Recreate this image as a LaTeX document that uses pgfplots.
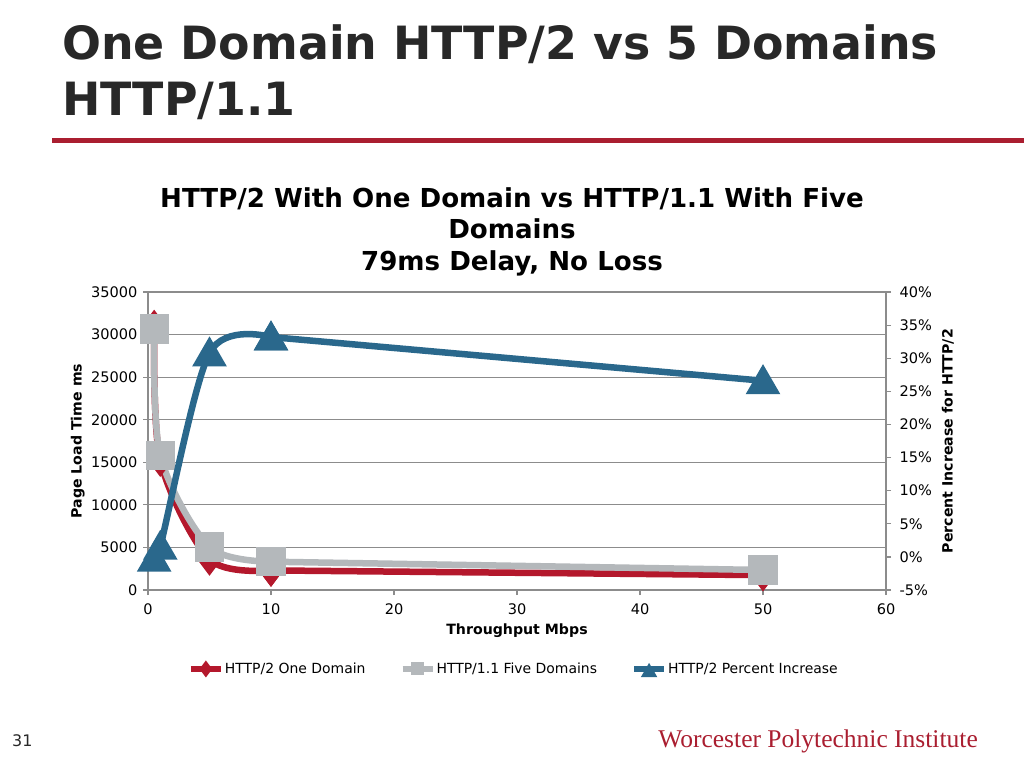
\documentclass[border=0pt]{standalone}
\usepackage{fontspec}
\setmainfont{DejaVu Sans}
\newfontfamily\wpifont{Liberation Serif}
\usepackage{pgfplots}
\usepackage{pgfplotstable}
\pgfplotsset{compat=1.18}

\definecolor{wpired}{RGB}{170,30,48}
\definecolor{serred}{RGB}{180,24,44}
\definecolor{sergray}{RGB}{180,184,187}
\definecolor{serblue}{RGB}{42,104,140}
\definecolor{gridgray}{RGB}{140,140,140}
\definecolor{titlegray}{RGB}{40,40,40}

% page load time (ms), left axis
\pgfplotstableread{
x    t
0.5  31000
1    15200
5    3600
10   2300
50   1750
}\onedomain
\pgfplotstableread{
x    t
0.5  30650
1    15775
5    5050
10   3325
50   2350
}\fivedomains
% percent increase for HTTP/2, right axis
\pgfplotstableread{
x    p
0.5  -0.2
1    1.6
5    30.8
10   33.2
50   26.6
}\increase

\pgfplotsset{
  slide axis/.style={
    at={(148bp,-590bp)}, anchor=south west,
    scale only axis, width=738bp, height=298bp,
    xmin=0, xmax=60, clip=false,
    tick align=outside, major tick length=5bp,
    axis line style={draw=gridgray, line width=1.2bp, -},
    tick style={draw=gridgray, line width=1.2bp},
    ticklabel style={font=\fontsize{14.6}{16}\selectfont},
    /pgf/number format/assume math mode=true,
    /pgf/number format/1000 sep={},
    label style={font=\fontsize{14.2}{16}\selectfont\bfseries},
  },
  legend image code/.code={
    \draw[mark repeat=2, mark phase=2, #1, mark size=3.5bp, line width=6bp]
      plot coordinates {(0bp,0bp) (15bp,0bp) (30bp,0bp)};
  },
}

\begin{document}
\begin{tikzpicture}[x=1bp, y=1bp]
\path[fill=white, use as bounding box] (0,0) rectangle (1024,-768);

% slide title and rule
\node[anchor=base west, inner sep=0, text=titlegray] at (62,-60)
  {\fontsize{46}{55}\selectfont\bfseries One Domain HTTP/2 vs 5 Domains};
\node[anchor=base west, inner sep=0, text=titlegray] at (62,-115)
  {\fontsize{46}{55}\selectfont\bfseries HTTP/1.1};
\fill[wpired] (52,-137.5) rectangle (1024,-143);

% chart title
\node[anchor=base, inner sep=0] at (512,-207)
  {\fontsize{26.2}{31}\selectfont\bfseries HTTP/2 With One Domain vs HTTP/1.1 With Five};
\node[anchor=base, inner sep=0] at (512,-238)
  {\fontsize{26.2}{31}\selectfont\bfseries Domains};
\node[anchor=base, inner sep=0] at (512,-270)
  {\fontsize{26.2}{31}\selectfont\bfseries 79ms Delay, No Loss};

\begin{axis}[
  slide axis,
  ymin=0, ymax=35000,
  xtick={0,10,...,60},
  ytick={0,5000,...,35000},
  scaled y ticks=false,
  axis x line*=bottom, axis y line*=left,
  xticklabel style={yshift=-5bp},
  yticklabel style={xshift=-2bp},
  ymajorgrids,
  major grid style={draw=gridgray, line width=1.2bp},
  xlabel={Throughput Mbps},
  ylabel={Page Load Time ms},
  xlabel style={at={(axis description cs:0.5,-0.138)}, anchor=center},
  ylabel style={at={(axis description cs:-0.095,0.5)}, anchor=center, rotate=0},
]
% curved part through the first four points, straight run out to 50 Mbps
\addplot[serred, line width=6.5bp, smooth, mark=diamond*, mark size=11bp,
  mark options={solid, fill=serred, draw=serred}]
  table[x=x, y=t, skip coords between index={4}{5}] {\onedomain};
\addplot[serred, line width=6.5bp, mark=diamond*, mark size=11bp,
  mark options={solid, fill=serred, draw=serred}]
  table[x=x, y=t, skip coords between index={0}{3}] {\onedomain};
\addplot[sergray, line width=6.5bp, smooth, mark=square*, mark size=11.3bp,
  mark options={solid, fill=sergray, draw=sergray}]
  table[x=x, y=t, skip coords between index={4}{5}] {\fivedomains};
\addplot[sergray, line width=6.5bp, mark=square*, mark size=11.3bp,
  mark options={solid, fill=sergray, draw=sergray}]
  table[x=x, y=t, skip coords between index={0}{3}] {\fivedomains};
\end{axis}

\begin{axis}[
  slide axis,
  ymin=-5, ymax=40,
  ytick={-5,0,...,40},
  yticklabel={\pgfmathprintnumber{\tick}\%},
  yticklabel style={xshift=5bp},
  axis y line*=right, axis x line=none,
  ylabel={Percent Increase for HTTP/2},
  ylabel style={at={(axis description cs:1.084,0.5)}, anchor=center, rotate=0},
  legend columns=3,
  legend style={at={(axis description cs:0.495,-0.265)}, anchor=center,
    draw=none, fill=none, font=\fontsize{14}{16}\selectfont,
    nodes={inner sep=1bp},
    /tikz/every even column/.append style={column sep=33bp}},
]
\addlegendimage{serred, mark=diamond*, mark options={solid, fill=serred}}
\addlegendentry{HTTP/2 One Domain}
\addlegendimage{sergray, mark=square*, mark options={solid, fill=sergray}}
\addlegendentry{HTTP/1.1 Five Domains}
\addplot[serblue, line width=6.5bp, smooth, mark=triangle*, mark size=13.5bp,
  mark options={solid, fill=serblue, draw=serblue, yshift=-3.4bp}]
  table[x=x, y=p, skip coords between index={4}{5}] {\increase};
\addlegendentry{HTTP/2 Percent Increase}
\addplot[serblue, line width=6.5bp, mark=triangle*, mark size=13.5bp,
  mark options={solid, fill=serblue, draw=serblue, yshift=-3.4bp}, forget plot]
  table[x=x, y=p, skip coords between index={0}{3}] {\increase};
\end{axis}

% footer
\node[anchor=base west, inner sep=0, text=titlegray] at (12,-746)
  {\fontsize{16}{18}\selectfont 31};
\node[anchor=base east, inner sep=0, text=wpired] at (978,-747)
  {\wpifont\fontsize{25.6}{28}\selectfont Worcester Polytechnic Institute};
\end{tikzpicture}
\end{document}
